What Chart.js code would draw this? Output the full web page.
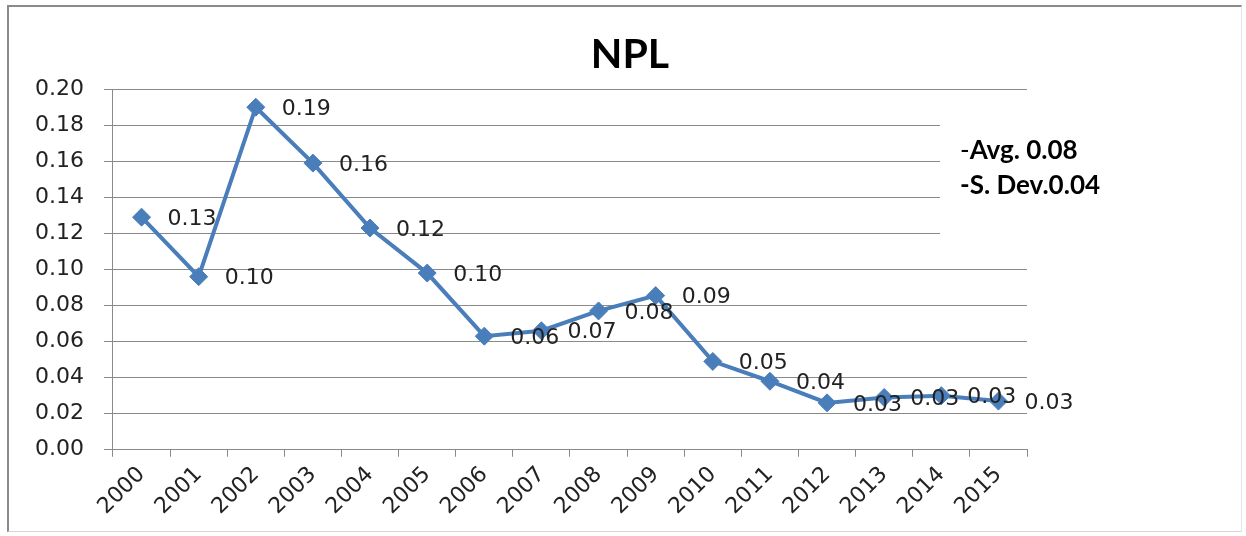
<!DOCTYPE html>
<html>
<head>
<meta charset="utf-8">
<title>NPL</title>
<script src="https://cdn.jsdelivr.net/npm/chart.js@4"></script>
<style>
  html, body { margin: 0; padding: 0; background: #fff; }
  #frame {
    position: absolute; left: 7px; top: 5px; width: 1232px; height: 524px;
    border-top: 2px solid #8a8a8a; border-left: 2px solid #8a8a8a;
    border-right: 1px solid #e4e4e4; border-bottom: 1px solid #d6d6d6;
  }
  #wrap { position: absolute; left: 0; top: 0; width: 1246px; height: 536px; }
</style>
</head>
<body>
<div id="frame"></div>
<div id="wrap"><canvas id="npl_chart"></canvas></div>
<script>
const years = ['2000', '2001', '2002', '2003', '2004', '2005', '2006', '2007',
               '2008', '2009', '2010', '2011', '2012', '2013', '2014', '2015'];
const npl = [0.129, 0.096, 0.190, 0.159, 0.123, 0.098, 0.063, 0.066,
             0.077, 0.0855, 0.049, 0.038, 0.026, 0.029, 0.030, 0.027];
const note_lines = [
    { plain: '-', bold: 'Avg. 0.08' },
    { plain: '', bold: '-S. Dev.0.04' }
];

const line_blue = '#4a7ebb';
const grid_grey = '#8a8a8a';
const tick_font = { family: 'DejaVu Sans', size: 22 };

// value printed to the right of every marker
const point_labels = {
    id: 'point_labels',
    afterDatasetsDraw(chart) {
        const ctx = chart.ctx;
        const meta = chart.getDatasetMeta(0);
        ctx.save();
        ctx.font = '22px "DejaVu Sans"';
        ctx.fillStyle = '#222';
        ctx.textAlign = 'left';
        ctx.textBaseline = 'middle';
        meta.data.forEach((pt, i) => {
            ctx.fillText(npl[i].toFixed(2), pt.x + 26, pt.y + 2);
        });
        ctx.restore();
    }
};

// average / deviation note on a white patch over the grid
const stats_note = {
    id: 'stats_note',
    afterDatasetsDraw(chart) {
        const ctx = chart.ctx;
        const area = chart.chartArea;
        const y = chart.scales.y;
        const left = area.right - 87;
        ctx.save();
        ctx.fillStyle = '#fff';
        ctx.fillRect(left, y.getPixelForValue(0.19), 140, y.getPixelForValue(0.11) - y.getPixelForValue(0.19));
        ctx.fillStyle = '#000';
        ctx.textBaseline = 'middle';
        note_lines.forEach((line, i) => {
            const ty = y.getPixelForValue(0.166) + i * 35;
            let x = left + 20;
            ctx.font = '26px Lato';
            ctx.fillText(line.plain, x, ty);
            x += ctx.measureText(line.plain).width;
            ctx.font = 'bold 26px Lato';
            ctx.fillText(line.bold, x, ty);
        });
        ctx.restore();
    }
};

new Chart(document.getElementById('npl_chart'), {
    type: 'line',
    data: {
        labels: years,
        datasets: [{
            label: 'NPL',
            data: npl,
            borderColor: line_blue,
            backgroundColor: line_blue,
            borderWidth: 4,
            tension: 0,
            fill: false,
            pointStyle: 'rectRot',
            pointRadius: 9,
            pointHoverRadius: 9,
            pointBackgroundColor: line_blue,
            pointBorderColor: line_blue,
            pointBorderWidth: 1
        }]
    },
    options: {
        responsive: true,
        maintainAspectRatio: false,
        animation: false,
        layout: { padding: { left: 15, right: 1, top: 30, bottom: 11 } },
        plugins: {
            legend: { display: false },
            tooltip: { enabled: false },
            title: {
                display: true,
                text: 'NPL',
                color: '#000',
                font: { family: 'Lato', size: 41, weight: 'bold' },
                padding: { top: 0, bottom: 10 }
            }
        },
        scales: {
            x: {
                offset: true,
                grid: {
                    offset: true,
                    drawOnChartArea: false,
                    drawTicks: true,
                    tickLength: 7,
                    color: grid_grey
                },
                border: { display: true, color: grid_grey },
                ticks: {
                    color: '#222',
                    font: tick_font,
                    minRotation: 45,
                    maxRotation: 45,
                    padding: 5,
                    autoSkip: false
                }
            },
            y: {
                min: 0,
                max: 0.2,
                grid: { color: grid_grey, tickLength: 9 },
                border: { display: true, color: grid_grey },
                ticks: {
                    stepSize: 0.02,
                    color: '#222',
                    font: tick_font,
                    padding: 20,
                    callback: v => v.toFixed(2)
                }
            },
            side: {
                type: 'linear',
                position: 'right',
                display: true,
                grid: { display: false },
                border: { display: false },
                ticks: { display: false },
                afterFit(scale) { scale.width = 218; }
            }
        }
    },
    plugins: [point_labels, stats_note]
});
</script>
</body>
</html>
